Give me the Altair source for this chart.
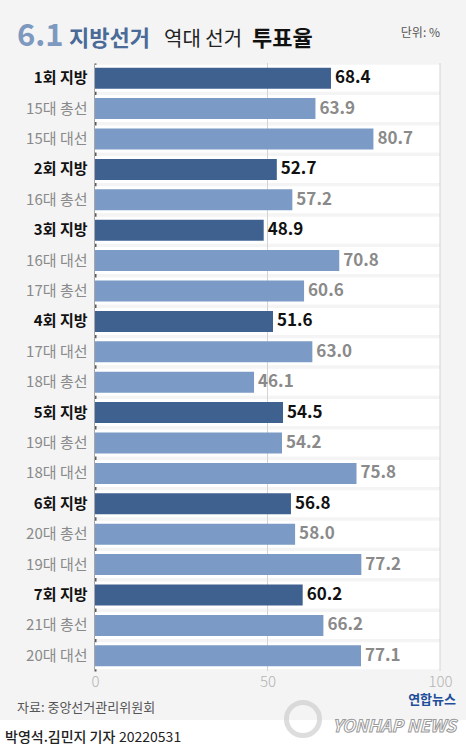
import altair as alt
import pandas as pd

labels = ["1회 지방", "15대 총선", "15대 대선", "2회 지방", "16대 총선", "3회 지방",
          "16대 대선", "17대 총선", "4회 지방", "17대 대선", "18대 총선", "5회 지방",
          "19대 총선", "18대 대선", "6회 지방", "20대 총선", "19대 대선", "7회 지방",
          "21대 총선", "20대 대선"]
values = [68.4, 63.9, 80.7, 52.7, 57.2, 48.9, 70.8, 60.6, 51.6, 63.0, 46.1, 54.5,
          54.2, 75.8, 56.8, 58.0, 77.2, 60.2, 66.2, 77.1]
x_ticks = [0, 50, 100]
grid_vals = [50, 100]

FONT = "Noto Sans CJK KR"

df = pd.DataFrame({"label": labels, "value": values})
df["local"] = df["label"].str.contains("지방")
df["txt"] = df["value"].map(lambda v: f"{v:.1f}")
df["full"] = 100

xscale = alt.Scale(domain=[0, 100], nice=False, zero=True)
yscale = alt.Scale(paddingInner=0, paddingOuter=0)

xaxis = alt.Axis(title=None, values=x_ticks, grid=False, domain=False, ticks=False,
                 labelColor="#b3b3b3", labelFontSize=15, labelFont=FONT,
                 labelFontWeight=300, labelPadding=3, labelFlush=False)
yaxis = alt.Axis(title=None, grid=False, ticks=False, domain=True,
                 domainColor="#5a5a5a", domainWidth=2, labelPadding=8,
                 labelFontSize=15, labelFont=FONT,
                 labelColor=alt.ExprRef(expr="indexof(datum.label,'지방')>=0 ? '#111111' : '#8a8a8a'"),
                 labelFontWeight=alt.ExprRef(expr="indexof(datum.label,'지방')>=0 ? 'bold' : 'normal'"))

X = lambda f: alt.X(f, type="quantitative", scale=xscale, axis=xaxis)
Y = alt.Y("label:N", sort=labels, scale=yscale, axis=yaxis)

base = alt.Chart(df)

bands = base.mark_bar(size=27, color="white").encode(x=X("full"), y=Y)

grid = alt.Chart(pd.DataFrame({"g": grid_vals})).mark_rule(
    color="#d4d4d4", strokeWidth=1).encode(x=X("g"))

bars = base.mark_bar(size=21).encode(
    x=X("value"), y=Y,
    color=alt.condition("datum.local", alt.value("#3f6190"), alt.value("#7b9ac5")))

texts = base.mark_text(align="left", baseline="middle", dx=4, fontSize=17,
                       fontWeight="bold", font=FONT).encode(
    x=X("value"), y=Y, text="txt:N",
    color=alt.condition("datum.local", alt.value("#111111"), alt.value("#8a8a8a")))

one = pd.DataFrame({"a": [0]})


def note(text, x, y, size, color, weight="normal", align="left", baseline="alphabetic",
         style="normal", stroke=None):
    kw = dict(align=align, baseline=baseline, fontSize=size, font=FONT,
              fontWeight=weight, color=color, fontStyle=style)
    if stroke:
        kw.update(stroke=stroke, strokeWidth=1)
    return alt.Chart(one).mark_text(**kw).encode(
        x=alt.value(x), y=alt.value(y), text=alt.value(text))


footer = alt.Chart(one).mark_rect(color="white").encode(
    x=alt.value(-95), x2=alt.value(371), y=alt.value(657), y2=alt.value(687))
circle = alt.Chart(one).mark_point(shape="circle", filled=False, color="#cfcfcf",
                                   strokeWidth=5, size=1100).encode(
    x=alt.value(208), y=alt.value(656))

annots = [
    note("6.1", -78, -17, 31, "#7e99bf", weight="bold"),
    note("지방선거", -26, -17, 22, "#4a6a98", weight="bold"),
    note("역대 선거", 69, -17, 20, "#222222"),
    note("투표율", 157, -17, 22, "#111111", weight="bold"),
    note("단위: %", 345, -30, 12, "#555555", align="right", baseline="middle"),
    note("자료: 중앙선거관리위원회", -78, 645, 13, "#555555", baseline="middle"),
    footer,
    circle,
    note("연합뉴스", 361, 637, 13, "#1e4d9a", weight="bold", align="right", baseline="middle"),
    note("YONHAP NEWS", 361, 664, 17, "#ffffff", weight="bold", align="right",
         baseline="middle", style="italic", stroke="#9a9a9a"),
    note("박영석.김민지 기자", -90, 675, 14, "#222222", weight=500, baseline="middle"),
    note("20220531", 24, 675, 14, "#222222", baseline="middle"),
]

chart = alt.layer(bands, grid, bars, texts, *annots).properties(
    width=345, height=608,
    padding={"left": 95, "top": 63, "right": 26, "bottom": 79},
    autosize=alt.AutoSizeParams(type="none"),
    background="#f4f4f4",
).configure_view(stroke=None)

chart.save("out.html", embed_options={"renderer": "svg", "actions": False})
